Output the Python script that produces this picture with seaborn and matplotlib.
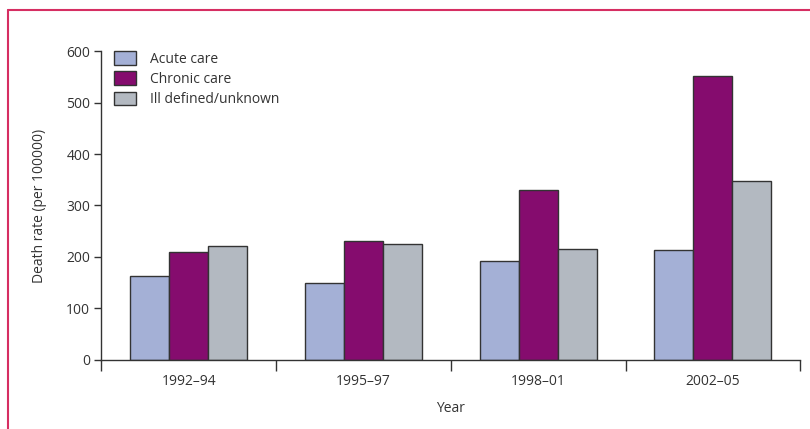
import numpy as np
import pandas as pd
from matplotlib import use
use('agg')
import matplotlib.pyplot as plt
from matplotlib.lines import Line2D
import seaborn as sns

periods = ["1992\u201394", "1995\u201397", "1998\u201301", "2002\u201305"]
care_types = ["Acute care", "Chronic care", "Ill defined/unknown"]
acute = [163, 150, 193, 213]
chronic = [210, 231, 331, 551]
ill_defined = [222, 225, 215, 348]
colors = ["#a4b0d6", "#850c6e", "#b3b9c1"]

rows = []
for name, vals in zip(care_types, [acute, chronic, ill_defined]):
	for p, v in zip(periods, vals):
		rows.append({"Year": p, "rate": v, "type": name})
df = pd.DataFrame(rows)

sns.set_style("ticks")
plt.rcParams['font.family'] = ['Open Sans', 'DejaVu Sans']
plt.rcParams['text.color'] = '#333333'

fig = plt.figure(figsize=(8.1, 4.29), dpi=100)
ax = fig.add_axes([0.125, 0.161, 0.863, 0.72])
sns.barplot(data=df, x="Year", y="rate", hue="type", palette=colors, saturation=1,
	edgecolor="#333333", linewidth=1.0, width=0.67, gap=0, ax=ax)

ax.set_xlim(-0.5, 3.5)
ax.set_ylim(0, 600)
ax.set_yticks([0, 100, 200, 300, 400, 500, 600])
ax.tick_params(axis='y', length=5, width=1, color='#333333', labelsize=10, labelcolor='#333333', pad=3)
ax.tick_params(axis='x', which='major', length=0, labelsize=10, labelcolor='#333333', pad=10)
ax.set_xticks(np.arange(-0.5, 4.0, 1.0), minor=True)
ax.tick_params(axis='x', which='minor', length=8, width=1, color='#333333', direction='out')
sns.despine(ax=ax)
for s in ['left', 'bottom']:
	ax.spines[s].set_color('#333333')
	ax.spines[s].set_linewidth(1)

ax.set_xlabel("Year", fontsize=10, color='#333333', labelpad=9)
ax.set_ylabel("Death rate (per 100000)", fontsize=10, color='#333333', labelpad=14)

leg = ax.legend(loc='upper left', bbox_to_anchor=(0.0, 1.04), frameon=False,
	fontsize=10, handlelength=1.6, handleheight=1.1, handletextpad=1.0, labelspacing=0.35)
for h in leg.legend_handles:
	h.set_edgecolor('#333333')

# pink frame, top and left only
fig.add_artist(Line2D([8/810, 1.0], [1-10/429, 1-10/429], color='#d62e62', lw=1.5, transform=fig.transFigure))
fig.add_artist(Line2D([8/810, 8/810], [0, 1-10/429], color='#d62e62', lw=1.5, transform=fig.transFigure))

plt.savefig("out.png", dpi=100)
